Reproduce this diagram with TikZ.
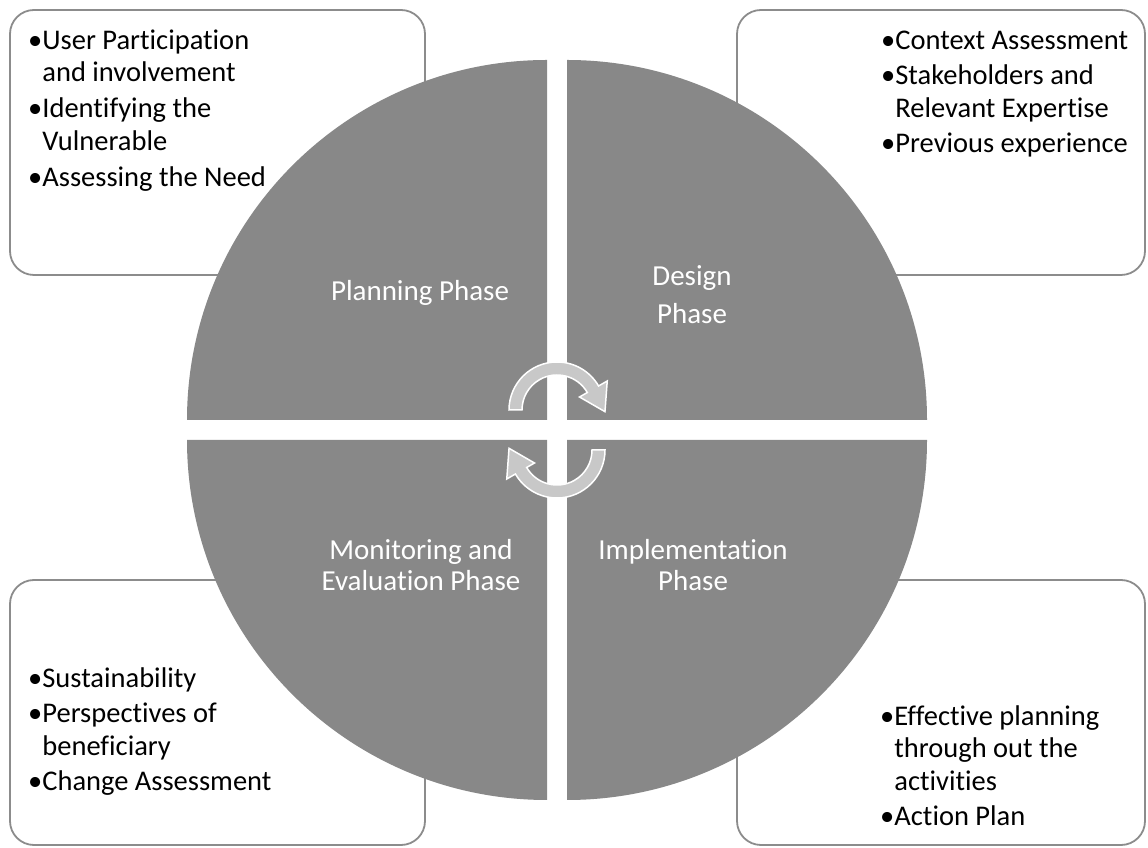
\documentclass[tikz,border=0pt]{standalone}
\usepackage{fontspec}
\setmainfont[Ligatures={NoCommon}]{Carlito}
\usetikzlibrary{calc}
\definecolor{quadgray}{HTML}{888888}
\definecolor{boxgray}{HTML}{8C8C8C}
\definecolor{arrowgray}{HTML}{C8C8C8}
\newcommand{\hang}{\phantom{•}}
\begin{document}
\begin{tikzpicture}[x=1pt,y=1pt,
  quad/.style={fill=quadgray, draw=none},
  infobox/.style={draw=boxgray, line width=1.8pt, rounded corners=24pt, fill=white, inner sep=0pt},
  boxtext/.style={font=\fontsize{28.5}{32.5}\selectfont, align=left, inner sep=0pt, text=black, anchor=north west},
  phasetext/.style={font=\fontsize{29}{31.5}\selectfont, align=center, text=white, inner sep=0pt, anchor=north},
  cyclearrow/.style={fill=arrowgray, draw=white, line width=1.5pt, line join=miter}
]
\useasboundingbox (0,0) rectangle (1148,848);
\fill[white] (0,0) rectangle (1148,848);

% info boxes
\node[infobox, minimum width=415pt, minimum height=265pt] (boxTL) at (217.5,705.5) {};
\node[infobox, minimum width=408pt, minimum height=265pt] (boxTR) at (941,705.5) {};
\node[infobox, minimum width=415pt, minimum height=265pt] (boxBL) at (217.5,135.5) {};
\node[infobox, minimum width=408pt, minimum height=265pt] (boxBR) at (941,135.5) {};

% quadrants
\fill[quad] (547,428) -- ++(-360,0) arc[start angle=180, end angle=90, radius=360] -- cycle;
\fill[quad] (567,428) -- ++(0,360) arc[start angle=90, end angle=0, radius=360] -- cycle;
\fill[quad] (547,408) -- ++(0,-360) arc[start angle=270, end angle=180, radius=360] -- cycle;
\fill[quad] (567,408) -- ++(360,0) arc[start angle=0, end angle=-90, radius=360] -- cycle;

% cycle arrows
\coordinate (U) at (557,438);
\coordinate (L) at (557,398);
\draw[cyclearrow] ($(U)+(180:48)$) arc[start angle=180, end angle=30, radius=48]
  -- ($(U)+(30:58)$) -- ($(U)+(-2:48)$) -- ($(U)+(30:26)$) -- ($(U)+(30:35)$)
  arc[start angle=30, end angle=180, radius=35] -- cycle;
\draw[cyclearrow] ($(L)+(0:48)$) arc[start angle=0, end angle=-150, radius=48]
  -- ($(L)+(210:58)$) -- ($(L)+(178:48)$) -- ($(L)+(210:26)$) -- ($(L)+(210:35)$)
  arc[start angle=-150, end angle=0, radius=35] -- cycle;

% phase labels
\node[phasetext] (planning) at (420,570) {\strut Planning Phase};
\node[phasetext] (design) at (692,585) {\strut Design\\[6.5pt]Phase};
\node[phasetext] (impl) at (693,311) {\strut Implementation\\Phase};
\node[phasetext] (monitor) at (421,311) {\strut Monitoring and\\Evaluation Phase};

% box texts
\node[boxtext] (tTL) at (28,821.75) {\strut•User Participation\\\hang and involvement\\[3.5pt]•Identifying the\\\hang Vulnerable\\[3.5pt]•Assessing the Need};
\node[boxtext] (tTR) at (881,821.75) {\strut•Context Assessment\\[3pt]•Stakeholders and\\\hang Relevant Expertise\\[3pt]•Previous experience};
\node[boxtext] (tBL) at (28,183.75) {\strut•Sustainability\\[3pt]•Perspectives of\\\hang beneficiary\\[3pt]•Change Assessment};
\node[boxtext] (tBR) at (880,145.75) {\strut•Effective planning\\\hang through out the\\\hang activities\\[3pt]•Action Plan};
\end{tikzpicture}
\end{document}
